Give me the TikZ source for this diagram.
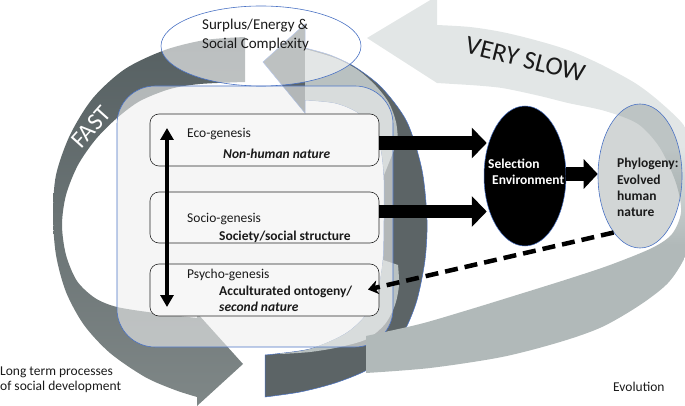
\documentclass[tikz,border=0pt]{standalone}
\usepackage{fontspec}
\setmainfont{Carlito}
\usetikzlibrary{arrows.meta,shapes.geometric}
\definecolor{fastdark}{HTML}{5C6466}
\definecolor{fasttop}{HTML}{566062}
\definecolor{fastbot}{HTML}{7F8787}
\definecolor{lightface}{HTML}{B9C1C1}
\definecolor{evlight}{HTML}{E2E6E6}
\definecolor{evmed}{HTML}{B1B9B9}
\definecolor{blueline}{HTML}{4A72C4}
\definecolor{boxfill}{HTML}{EEEFEF}
\definecolor{phylofill}{HTML}{6A7878}
\definecolor{txt}{HTML}{1A1A1A}
\pgfdeclareverticalshading{evoshade}{100bp}{color(0bp)=(evmed); color(42bp)=(evmed); color(55bp)=(evlight); color(100bp)=(evlight)}
\begin{document}
\begin{tikzpicture}[x=1pt,y=-1pt,
  bluel/.style={draw=blueline,line width=0.6pt},
  genbox/.style={draw=black!85,line width=0.6pt,fill=white!97!black,rounded corners=9pt,minimum width=229pt,inner sep=0pt},
  lbl/.style={anchor=base west,inner sep=0pt,text=txt,font=\fontsize{13.5}{16}\selectfont},
  lblb/.style={lbl,font=\fontsize{13.5}{16}\selectfont\bfseries},
  lblbi/.style={lbl,font=\fontsize{13.5}{16}\selectfont\bfseries\itshape},
  bigarrow/.style={line width=13.5pt,-{Triangle[length=15pt,width=30pt]}},
  dblarrow/.style={line width=3.3pt,{Triangle[length=12pt,width=13pt]}-{Triangle[length=12pt,width=13pt]}},
  dasharrow/.style={line width=4.5pt,dash pattern=on 13pt off 7pt,-{Stealth[length=10pt,width=14pt,inset=3pt]}}
]
\useasboundingbox (0,0) rectangle (685,406);
\clip (0,0) rectangle (685,406);

% FAST cycle: left half (arrow head at bottom)
\path[top color=fasttop,bottom color=fastbot]
  plot[smooth] coordinates {(245,37) (205,40) (165,50) (125,69) (93,98) (70,135) (56,175) (53,215) (56,255) (66,292) (84,325) (110,353) (145,377) (175,390) (197,397)}
  -- (197,406) -- (243,364) -- (197,313)
  -- plot[smooth] coordinates {(197,318) (155,313) (117,307) (95,298) (77,281) (66,255) (62,225) (66,195) (78,165) (96,139) (117,118) (140,101) (170,89) (200,84) (245,82)}
  -- cycle;
% FAST cycle: right half (arrow head at top)
\path[fill=fastdark,bluel,line width=0.5pt]
  plot[smooth] coordinates {(265,397) (300,392) (335,383) (367,370) (390,352) (405,330) (417,300) (425,260) (427,220) (422,170) (407,122) (382,88) (355,67) (330,55) (305,48)}
  -- (305,24) -- (263,62) -- (305,113)
  -- plot[smooth] coordinates {(305,100) (335,103) (357,112) (372,127) (381,150) (384,180) (384,220) (383,260) (378,290) (366,315) (345,334) (310,349) (265,355)}
  -- cycle;
% inner faces
\fill[lightface]
  plot[smooth] coordinates {(305,49) (335,58) (358,70) (376,86) (389,103) (396,122) (398,140)}
  -- plot[smooth] coordinates {(384,175) (381,150) (372,127) (357,112) (335,103) (305,100)} -- cycle;
\fill[lightface]
  plot[smooth] coordinates {(280,354) (310,352) (340,347) (367,339) (385,324) (395,305) (399,285) (398,265)}
  -- plot[smooth] coordinates {(383,260) (378,290) (366,315) (345,334) (310,349) (280,353.5)} -- cycle;

% core box
\node[bluel,fill=boxfill,fill opacity=0.6,rounded corners=38pt,minimum width=276pt,minimum height=261pt,inner sep=0pt] (core) at (255,216.5) {};

% evolution arrow (VERY SLOW)
\path[shading=evoshade]
  plot[smooth] coordinates {(366,373) (430,368) (502,357) (560,342) (602,327) (640,305) (668,283) (685,257) (695,225) (698,190) (693,155) (685,127) (660,102) (635,83) (600,64) (568,50) (535,40) (502,32) (470,27) (437,25)}
  -- (437,-4) -- (367,38) -- (437,83)
  -- plot[smooth] coordinates {(470,85) (502,88) (540,96) (568,103) (605,111) (638,124) (660,148) (676,183) (681,212) (672,234) (652,248) (610,265) (568,279) (520,294) (468,310) (420,324) (366,336)}
  -- cycle;

% top ellipse
\node[ellipse,bluel,fill=white,fill opacity=0.6,minimum width=200pt,minimum height=80pt,inner sep=0pt] (surplus) at (261,46) {};
\node[lbl,font=\fontsize{15}{18}\selectfont] (surplus1) at (202,30) {Surplus/Energy \&};
\node[lbl,font=\fontsize{15}{18}\selectfont] (surplus2) at (202,48.3) {Social Complexity};

% genesis boxes
\node[genbox,minimum height=52pt] (box1) at (264.5,140) {};
\node[genbox,minimum height=51pt] (box2) at (264.5,217.5) {};
\node[genbox,minimum height=52pt] (box3) at (264.5,290) {};
\node[lbl] (eco) at (187,137.7) {Eco-genesis};
\node[lblbi] (nonhuman) at (223,158.5) {Non-human nature};
\node[lbl] (socio) at (187,222.7) {Socio-genesis};
\node[lblb] (society) at (219,240.7) {Society/social structure};
\node[lbl] (psycho) at (187,278.5) {Psycho-genesis};
\node[lblb] (accult) at (219,295) {Acculturated ontogeny/};
\node[lblbi] (second) at (219,311) {second nature};

% vertical double arrow
\coordinate (vtop) at (167,128);
\coordinate (vbot) at (167,307);
\draw[dblarrow] (vtop) -- (vbot);

% selection & phylogeny
\node[ellipse,fill=black,draw=blueline,line width=0.5pt,minimum width=82pt,minimum height=140pt,inner sep=0pt] (sel) at (525,176) {};
\node[lblb,text=white] (sel1) at (488,168.3) {Selection};
\node[lblb,text=white] (sel2) at (492,185) {Environment};
\node[ellipse,bluel,fill=phylofill,fill opacity=0.3,minimum width=84pt,minimum height=144pt,inner sep=0pt] (phylo) at (640,176) {};
\node[lblb] (ph1) at (617,167.7) {Phylogeny:};
\node[lblb] (ph2) at (617,184.3) {Evolved};
\node[lblb] (ph3) at (617,200.7) {human};
\node[lblb] (ph4) at (617,216.7) {nature};

% black arrows
\coordinate (a1s) at ([yshift=-3pt]box1.east);
\coordinate (a2s) at ([yshift=6pt]box2.east);
\coordinate (a3s) at ([yshift=2pt]sel.east);
\draw[bigarrow] (a1s) -- ([xshift=3pt]a1s -| sel.west);
\draw[bigarrow] (a2s) -- ([xshift=3pt]a2s -| sel.west);
\draw[line width=14pt,-{Triangle[length=14pt,width=29pt]}] (a3s) -- (a3s -| phylo.west);
\coordinate (dashend) at (368,289.5);
\draw[dasharrow] (phylo.245) -- (dashend);

% labels
\node[text=white,font=\fontsize{24}{24}\selectfont,rotate=48,inner sep=0pt] (fast) at (91,127) {FAST};
\node[text=txt,font=\fontsize{26}{26}\selectfont,rotate=-14,inner sep=0pt] (slow) at (525.5,59.5) {VERY SLOW};
\node[lbl] (lt1) at (0,375) {Long term processes};
\node[lbl] (lt2) at (0,390.7) {of social development};
\node[lbl] (evo) at (613,391.5) {Evolution};
\end{tikzpicture}
\end{document}
